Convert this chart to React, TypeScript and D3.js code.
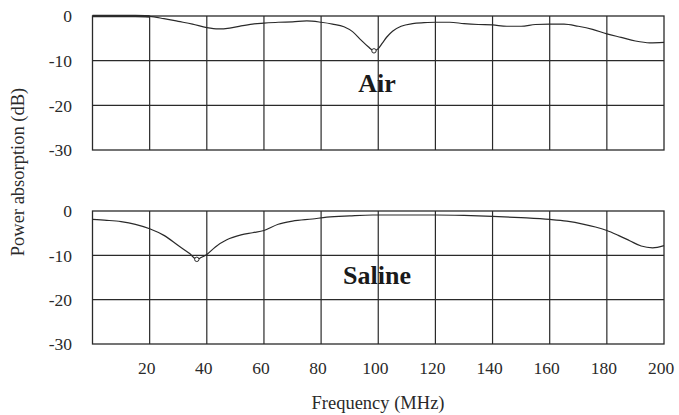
import { useEffect, useRef } from 'react';
import * as d3 from 'd3';

// Frequency sweep (MHz) and power absorption (dB)
const airFreq = [0, 5, 10, 15, 20, 25, 30, 35, 40, 44, 48, 52, 56, 60, 65, 70, 75, 80, 84, 88, 91, 94, 96.5, 98.5, 100, 101.5, 103, 105, 108, 112, 116, 120, 125, 130, 135, 140, 145, 150, 155, 160, 165, 170, 175, 180, 185, 190, 195, 200];
const airDb = [0, 0, 0, 0, -0.1, -0.6, -1.2, -1.8, -2.6, -2.9, -2.7, -2.2, -1.8, -1.6, -1.4, -1.3, -1.1, -1.4, -1.8, -2.4, -3.5, -5.4, -6.9, -7.8, -7.3, -6.0, -4.7, -3.4, -2.3, -1.7, -1.5, -1.4, -1.4, -1.7, -1.9, -2.0, -2.3, -2.3, -1.9, -1.8, -1.8, -2.3, -3.0, -4.0, -4.8, -5.6, -6.0, -5.9];

const salineFreq = [0, 5, 10, 15, 20, 25, 30, 34, 36.5, 38, 40, 43, 47, 52, 56, 60, 65, 70, 77, 82, 90, 98, 110, 120, 130, 140, 150, 160, 166, 172, 176, 180, 184, 188, 192, 196, 200];
const salineDb = [-1.9, -2.1, -2.4, -3.0, -4.0, -5.5, -7.8, -9.6, -10.9, -10.5, -9.8, -8.1, -6.5, -5.4, -4.9, -4.4, -3.0, -2.3, -1.8, -1.4, -1.1, -0.9, -0.9, -0.9, -1.0, -1.2, -1.5, -1.9, -2.3, -3.0, -3.6, -4.4, -5.5, -6.7, -7.9, -8.3, -7.8];

const xTicks = [20, 40, 60, 80, 100, 120, 140, 160, 180, 200];
const yTicks = [0, -10, -20, -30];

const panels = [
  { label: 'Air', freq: airFreq, db: airDb, top: 16, bottom: 150, labelY: 92 },
  { label: 'Saline', freq: salineFreq, db: salineDb, top: 211, bottom: 344, labelY: 284 },
];

const W = 679;
const H = 415;
const ink = '#2a2a2a';
const serif = '"Liberation Serif", "DejaVu Serif", serif';

export default function App() {
  const svgRef = useRef<SVGSVGElement>(null);

  useEffect(() => {
    if (!svgRef.current) return;
    const svg = d3.select(svgRef.current);
    svg.selectAll('*').remove();

    const x = d3.scaleLinear().domain([0, 200]).range([92.5, 664]);

    panels.forEach((p) => {
      const y = d3.scaleLinear().domain([0, -30]).range([p.top, p.bottom]);
      const g = svg.append('g');

      // grid
      g.selectAll('.vgrid')
        .data(xTicks.slice(0, -1))
        .enter().append('line')
        .attr('x1', d => x(d)).attr('x2', d => x(d))
        .attr('y1', y(0)).attr('y2', y(-30))
        .attr('stroke', ink).attr('stroke-width', 1.2);

      g.selectAll('.hgrid')
        .data([-10, -20])
        .enter().append('line')
        .attr('x1', x(0)).attr('x2', x(200))
        .attr('y1', d => y(d)).attr('y2', d => y(d))
        .attr('stroke', ink).attr('stroke-width', 1.2);

      g.append('rect')
        .attr('x', x(0)).attr('y', y(0))
        .attr('width', x(200) - x(0)).attr('height', y(-30) - y(0))
        .attr('fill', 'none').attr('stroke', ink).attr('stroke-width', 1.3);

      // y tick labels
      g.selectAll('.ylab')
        .data(yTicks)
        .enter().append('text')
        .attr('x', 72)
        .attr('y', d => y(d))
        .attr('dy', '0.36em')
        .attr('text-anchor', 'end')
        .style('font-family', serif)
        .style('font-size', '17.5px')
        .style('fill', ink)
        .text(d => (d === 0 ? '0' : `-${Math.abs(d)}`));

      // curve
      const pts = p.freq.map((f, i) => [f, p.db[i]] as [number, number]);
      const line = d3.line<[number, number]>()
        .x(d => x(d[0]))
        .y(d => y(d[1]))
        .curve(d3.curveMonotoneX);

      g.append('path')
        .attr('d', line(pts))
        .attr('fill', 'none')
        .attr('stroke', ink)
        .attr('stroke-width', 1.2);

      if (p.label === 'Air') {
        // heavier trace over the first grid cell
        g.append('path')
          .attr('d', line(pts.filter(d => d[0] <= 20)))
          .attr('fill', 'none')
          .attr('stroke', ink)
          .attr('stroke-width', 2.6);
      }

      // small marker at the absorption minimum
      const minPt = pts.reduce((a, b) => (b[1] < a[1] ? b : a));
      g.append('circle')
        .attr('cx', x(minPt[0])).attr('cy', y(minPt[1]))
        .attr('r', 2.2)
        .attr('fill', 'white').attr('stroke', ink).attr('stroke-width', 1);

      g.append('text')
        .attr('x', 377)
        .attr('y', p.labelY)
        .attr('text-anchor', 'middle')
        .style('font-family', serif)
        .style('font-weight', 'bold')
        .style('font-size', '26px')
        .style('fill', '#1a1a1a')
        .text(p.label);
    });

    // x tick labels (shared, under the lower panel)
    svg.selectAll('.xlab')
      .data(xTicks)
      .enter().append('text')
      .attr('x', d => x(d) - 3)
      .attr('y', 374)
      .attr('text-anchor', 'middle')
      .style('font-family', serif)
      .style('font-size', '17.5px')
      .style('fill', ink)
      .text(d => d);

    svg.append('text')
      .attr('x', 378)
      .attr('y', 409)
      .attr('text-anchor', 'middle')
      .style('font-family', serif)
      .style('font-size', '18.5px')
      .style('fill', ink)
      .text('Frequency (MHz)');

    svg.append('text')
      .attr('transform', 'translate(24,172) rotate(-90)')
      .attr('text-anchor', 'middle')
      .style('font-family', serif)
      .style('font-size', '18.5px')
      .style('fill', ink)
      .text('Power absorption (dB)');
  }, []);

  return (
    <svg
      ref={svgRef}
      width={W}
      height={H}
      style={{ position: 'absolute', left: 0, top: 0, background: '#fff' }}
    />
  );
}
